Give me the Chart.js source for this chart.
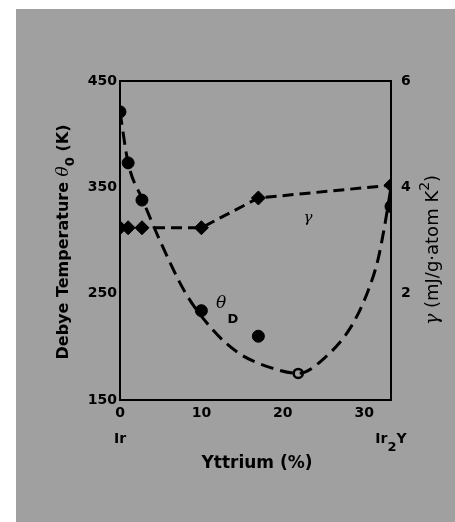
<!DOCTYPE html>
<html>
<head>
<meta charset="utf-8">
<script src="https://cdn.jsdelivr.net/npm/chart.js@4/dist/chart.umd.min.js"></script>
<style>
  html, body { margin: 0; padding: 0; background: #fff; }
  #wrap { width: 455px; height: 522px; }
</style>
</head>
<body>
<div id="wrap"><canvas id="chart" width="455" height="522"></canvas></div>
<script>
// Yttrium content (%) for the measured samples
const yttrium = [0, 1, 2.7, 10, 17, 33.3];
// Debye temperature (K), filled circles
const thetaD = [421, 373, 338, 234, 210, 332];
// open circle
const openX = [21.9];
const openTheta = [175];
// electronic specific heat coefficient gamma (mJ/g-atom K^2), diamonds
const gamma = [3.24, 3.24, 3.24, 3.24, 3.8, 4.04];

// dashed guide curves
const thetaCurveX = [0, 1, 2.8, 4.9, 8.1, 11.4, 14.6, 18.7, 21.9, 25.2, 28.4, 30.5, 31.7, 32.5, 33.3];
const thetaCurveY = [421, 373, 338, 300, 250, 216, 194, 180, 175, 190, 219, 253, 282, 313, 350];
const gammaCurveX = [0, 2.7, 10, 17, 33.3];
const gammaCurveY = [3.24, 3.24, 3.24, 3.8, 4.04];

const leftTicks = [150, 250, 350, 450];
const rightTicks = [2, 4, 6];
const xTicks = [0, 10, 20, 30];

const pts = (xs, ys) => xs.map((x, i) => ({ x: x, y: ys[i] }));

const tickFont = { family: 'DejaVu Sans', weight: 'bold', size: 14 };
const bg = '#a0a0a0';

// draws a row of text pieces (with sub/superscripts) centred on 0,0
function drawParts(ctx, parts) {
    let total = 0;
    parts.forEach(p => { ctx.font = p.f; total += ctx.measureText(p.t).width; });
    let cx = -total / 2;
    ctx.textAlign = 'left';
    parts.forEach(p => {
        ctx.font = p.f;
        ctx.fillText(p.t, cx, p.dy);
        cx += ctx.measureText(p.t).width;
    });
}

// background, frame and the hand-placed texts
const decor = {
    id: 'decor',
    beforeDraw(chart) {
        const ctx = chart.ctx;
        ctx.save();
        ctx.fillStyle = '#fff';
        ctx.fillRect(0, 0, chart.width, chart.height);
        ctx.fillStyle = bg;
        ctx.fillRect(16, 9, chart.width - 16, chart.height - 9);
        ctx.restore();
    },
    afterDatasetsDraw(chart) {
        const ctx = chart.ctx;
        const a = chart.chartArea;
        ctx.save();
        ctx.strokeStyle = '#000';
        ctx.lineWidth = 2;
        ctx.strokeRect(a.left, a.top, a.right - a.left, a.bottom - a.top);
        ctx.restore();
    },
    afterDraw(chart) {
        const ctx = chart.ctx;
        const x = chart.scales.x;
        ctx.save();
        ctx.fillStyle = '#000';
        ctx.textBaseline = 'alphabetic';

        // x axis end labels
        ctx.font = 'bold 14px "DejaVu Sans"';
        ctx.textAlign = 'center';
        ctx.fillText('Ir', x.getPixelForValue(0), 443);
        ctx.save();
        ctx.translate(x.getPixelForValue(33.3), 443);
        drawParts(ctx, [
            { t: 'Ir', f: 'bold 14px "DejaVu Sans"', dy: 0 },
            { t: '2', f: 'bold 13px "DejaVu Sans"', dy: 8 },
            { t: 'Y', f: 'bold 14px "DejaVu Sans"', dy: 0 }
        ]);
        ctx.restore();

        // x title
        ctx.font = 'bold 17px "DejaVu Sans"';
        ctx.textAlign = 'center';
        ctx.fillText('Yttrium (%)', 257, 468);

        // left title, rotated
        ctx.save();
        ctx.translate(68, 242);
        ctx.rotate(-Math.PI / 2);
        drawParts(ctx, [
            { t: 'Debye Temperature ', f: 'bold 16px "DejaVu Sans"', dy: 0 },
            { t: 'θ', f: 'italic 17px "DejaVu Serif"', dy: 0 },
            { t: '0', f: 'bold 13px "DejaVu Sans"', dy: 6 },
            { t: ' (K)', f: 'bold 16px "DejaVu Sans"', dy: 0 }
        ]);
        ctx.restore();

        // right title, rotated
        ctx.save();
        ctx.translate(438, 250);
        ctx.rotate(-Math.PI / 2);
        drawParts(ctx, [
            { t: 'γ', f: 'italic 19px "DejaVu Serif"', dy: 0 },
            { t: ' (mJ/g·atom K', f: '18px "DejaVu Sans"', dy: 0 },
            { t: '2', f: '14px "DejaVu Sans"', dy: -9 },
            { t: ')', f: '18px "DejaVu Sans"', dy: 0 }
        ]);
        ctx.restore();

        // curve labels
        ctx.textAlign = 'center';
        ctx.font = 'italic 17px "DejaVu Serif"';
        ctx.fillText('θ', 221, 308);
        ctx.font = 'bold 13px "DejaVu Sans"';
        ctx.fillText('D', 233, 323);
        ctx.font = 'italic 15px "DejaVu Serif"';
        ctx.fillText('γ', 308, 222);

        ctx.restore();
    }
};

const ctx = document.getElementById('chart').getContext('2d');

new Chart(ctx, {
    type: 'scatter',
    data: {
        datasets: [
            {
                label: 'theta curve',
                data: pts(thetaCurveX, thetaCurveY),
                showLine: true,
                borderColor: '#000',
                borderWidth: 3,
                borderDash: [13, 7],
                pointRadius: 0,
                cubicInterpolationMode: 'monotone',
                yAxisID: 'y'
            },
            {
                label: 'gamma curve',
                data: pts(gammaCurveX, gammaCurveY),
                showLine: true,
                borderColor: '#000',
                borderWidth: 3,
                borderDash: [11, 6],
                pointRadius: 0,
                tension: 0,
                yAxisID: 'y1'
            },
            {
                label: 'Theta D',
                data: pts(yttrium, thetaD),
                backgroundColor: '#000',
                borderColor: '#000',
                pointRadius: 6,
                yAxisID: 'y'
            },
            {
                label: 'Theta D (open)',
                data: pts(openX, openTheta),
                backgroundColor: bg,
                borderColor: '#000',
                borderWidth: 2.5,
                pointRadius: 4.5,
                yAxisID: 'y'
            },
            {
                label: 'gamma',
                data: pts(yttrium, gamma),
                pointStyle: 'rectRot',
                backgroundColor: '#000',
                borderColor: '#000',
                pointRadius: 7,
                yAxisID: 'y1'
            }
        ]
    },
    options: {
        responsive: false,
        animation: false,
        layout: { padding: { top: 81, left: 0, right: 0, bottom: 0 } },
        plugins: {
            legend: { display: false },
            tooltip: { enabled: false }
        },
        scales: {
            x: {
                type: 'linear',
                min: 0,
                max: 33.3,
                afterFit: s => { s.height = 122; },
                afterBuildTicks: s => { s.ticks = xTicks.map(v => ({ value: v })); },
                grid: { display: false, drawTicks: false },
                border: { display: false },
                ticks: { color: '#000', font: tickFont, padding: 5 }
            },
            y: {
                type: 'linear',
                position: 'left',
                min: 150,
                max: 450,
                afterFit: s => { s.width = 120; },
                afterBuildTicks: s => { s.ticks = leftTicks.map(v => ({ value: v })); },
                grid: { display: false, drawTicks: false },
                border: { display: false },
                ticks: { color: '#000', font: tickFont, padding: 3 }
            },
            y1: {
                type: 'linear',
                position: 'right',
                min: 0,
                max: 6,
                afterFit: s => { s.width = 64; },
                afterBuildTicks: s => { s.ticks = rightTicks.map(v => ({ value: v })); },
                grid: { display: false, drawTicks: false },
                border: { display: false },
                ticks: { color: '#000', font: tickFont, padding: 10 }
            }
        }
    },
    plugins: [decor]
});
</script>
</body>
</html>
